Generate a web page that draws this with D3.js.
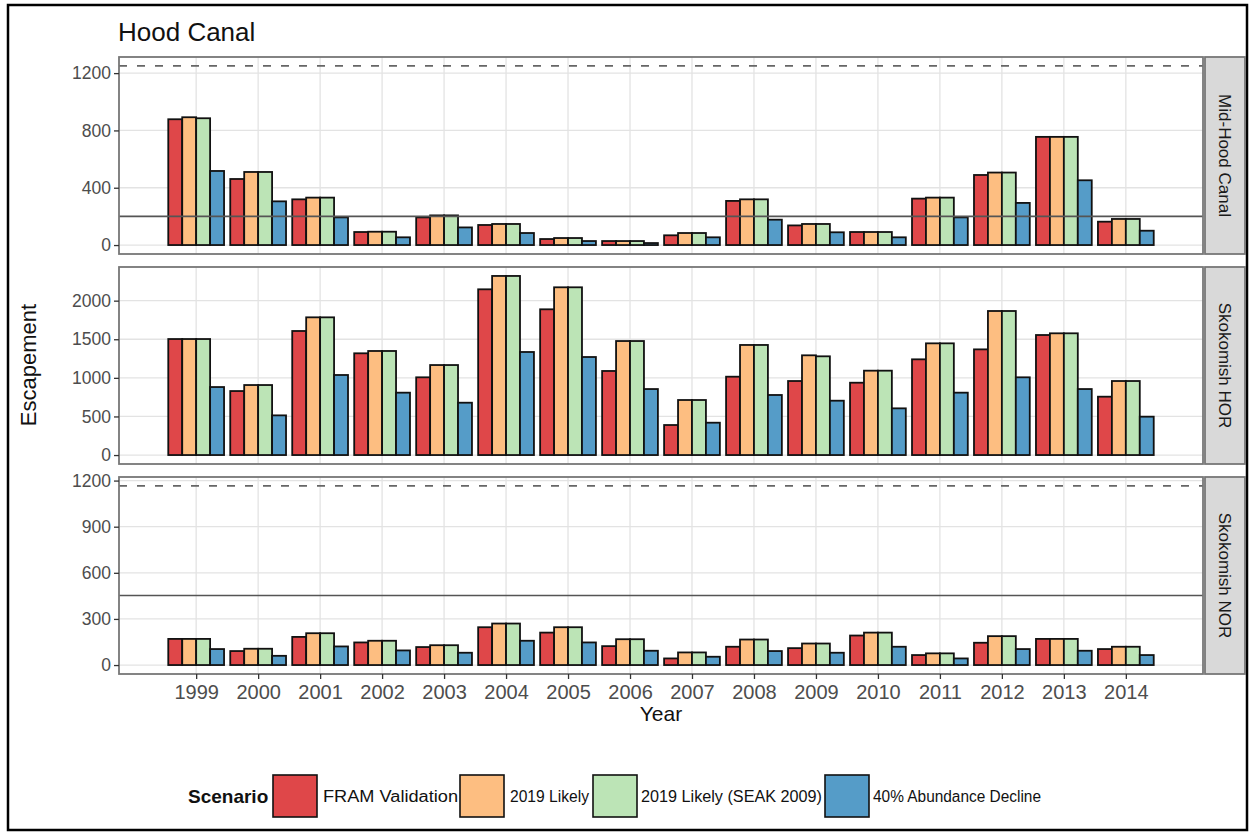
<!DOCTYPE html>
<html><head><meta charset="utf-8">
<script src="https://cdn.jsdelivr.net/npm/d3@7"></script>
<style>body{margin:0;background:#fff} svg{display:block} text{font-family:"Liberation Sans",Arial,sans-serif}</style>
</head><body><svg id="c" width="1254" height="834"></svg>
<script>
const years = [1999,2000,2001,2002,2003,2004,2005,2006,2007,2008,2009,2010,2011,2012,2013,2014];
const scenarios = ["FRAM Validation","2019 Likely","2019 Likely (SEAK 2009)","40% Abundance Decline"];
const scenarioColors = ["#DF4749","#FDBE81","#BCE4B6","#559CC8"];
const panelNames = ["Mid-Hood Canal","Skokomish HOR","Skokomish NOR"];

// Mid-Hood Canal
const midFram   = [878,461,319,91,193,140,42,28,68,308,137,91,324,489,755,163];
const mid2019   = [892,510,331,93,207,147,49,28,84,319,147,91,331,506,755,182];
const midSeak   = [885,510,331,93,207,147,49,28,84,319,147,91,331,506,755,182];
const midDecl   = [517,305,193,54,123,84,28,14,54,177,89,54,193,294,452,100];
// Skokomish HOR
const horFram   = [1503,829,1607,1318,1007,2147,1888,1089,389,1015,959,937,1240,1369,1555,756];
const hor2019   = [1503,907,1784,1348,1166,2320,2173,1477,713,1426,1292,1093,1447,1866,1577,959];
const horSeak   = [1503,907,1784,1348,1166,2320,2173,1477,713,1426,1279,1093,1447,1866,1577,959];
const horDecl   = [881,514,1037,808,678,1335,1270,855,419,778,704,605,808,1007,855,497];
// Skokomish NOR
const norFram   = [170,91,183,147,117,246,211,123,43,119,110,192,65,145,170,104];
const nor2019   = [170,106,207,158,129,270,246,168,82,166,140,211,76,188,170,119];
const norSeak   = [170,106,207,158,129,270,246,168,82,166,140,211,76,188,170,119];
const norDecl   = [104,60,121,95,80,158,147,93,54,91,80,119,43,104,93,65];

const yTicks = [[0,400,800,1200],[0,500,1000,1500,2000],[0,300,600,900,1200]];
const dashedRef = [1250, null, 1165];
const solidRef  = [200, null, 452];

const panelData = [
  [midFram, mid2019, midSeak, midDecl],
  [horFram, hor2019, horSeak, horDecl],
  [norFram, nor2019, norSeak, norDecl]
];

const svg = d3.select("#c");
svg.append("rect").attr("x",8).attr("y",5).attr("width",1239).attr("height",825)
  .attr("fill","#fff").attr("stroke","#000").attr("stroke-width",2.5);

const left = 119, right = 1203;
const panelTops = [57, 267, 477], panelH = 197;
const stripX = 1205, stripW = 40;

const x = d3.scaleLinear().domain([1998.55 - 0.795, 2014.45 + 0.795]).range([left, right]);
const dodge = 0.9, bw = dodge / scenarios.length;

svg.append("text").attr("x",118).attr("y",41).attr("font-size",26).attr("fill","#111").text("Hood Canal");

panelData.forEach((series, p) => {
  const top = panelTops[p];
  let mx = d3.max(series.flat());
  if (dashedRef[p] != null) mx = Math.max(mx, dashedRef[p]);
  const y = d3.scaleLinear().domain([-0.05*mx, 1.05*mx]).range([top+panelH, top]);
  const g = svg.append("g");
  // grid
  g.append("g").selectAll("line").data(yTicks[p]).join("line")
    .attr("x1",left).attr("x2",right).attr("y1",d=>y(d)).attr("y2",d=>y(d))
    .attr("stroke","#e3e3e3").attr("stroke-width",1.3);
  g.append("g").selectAll("line").data(years).join("line")
    .attr("x1",d=>x(d)).attr("x2",d=>x(d)).attr("y1",top).attr("y2",top+panelH)
    .attr("stroke","#e3e3e3").attr("stroke-width",1.3);
  // bars
  series.forEach((vals, s) => {
    g.append("g").selectAll("rect").data(vals).join("rect")
      .attr("x",(d,i)=>x(years[i]-dodge/2+s*bw))
      .attr("width",(d,i)=>x(years[i]-dodge/2+(s+1)*bw)-x(years[i]-dodge/2+s*bw))
      .attr("y",d=>y(d)).attr("height",d=>y(0)-y(d))
      .attr("fill",scenarioColors[s]).attr("stroke","#111").attr("stroke-width",1.8);
  });
  // reference lines
  if (dashedRef[p] != null) {
    g.append("line").attr("x1",left).attr("x2",right).attr("y1",y(dashedRef[p])).attr("y2",y(dashedRef[p]))
      .attr("stroke","#666").attr("stroke-width",1.8).attr("stroke-dasharray","8,10");
  }
  if (solidRef[p] != null) {
    g.append("line").attr("x1",left).attr("x2",right).attr("y1",y(solidRef[p])).attr("y2",y(solidRef[p]))
      .attr("stroke","#555").attr("stroke-width",1.6);
  }
  // border
  g.append("rect").attr("x",left).attr("y",top).attr("width",right-left).attr("height",panelH)
    .attr("fill","none").attr("stroke","#777").attr("stroke-width",1.8);
  // y axis
  const ya = d3.axisLeft(y).tickValues(yTicks[p]).tickFormat(d3.format("d")).tickSize(5).tickPadding(3);
  const ag = svg.append("g").attr("transform",`translate(${left},0)`).call(ya);
  ag.select(".domain").remove();
  ag.selectAll(".tick line").attr("stroke","#333").attr("stroke-width",1.3);
  ag.selectAll(".tick text").attr("font-size",17.5).attr("fill","#4d4d4d")
    .attr("font-family","'Liberation Sans',Arial,sans-serif");
  // strip
  svg.append("rect").attr("x",stripX).attr("y",top).attr("width",stripW).attr("height",panelH)
    .attr("fill","#d9d9d9").attr("stroke","#777").attr("stroke-width",1.8);
  svg.append("text").attr("transform",`translate(${stripX+stripW/2},${top+panelH/2}) rotate(90)`)
    .attr("text-anchor","middle").attr("dy","0.35em").attr("font-size",17).attr("fill","#1a1a1a")
    .text(panelNames[p]);
  // x axis on bottom panel
  if (p === panelData.length-1) {
    const xa = d3.axisBottom(x).tickValues(years).tickFormat(d3.format("d")).tickSize(5).tickPadding(6);
    const xg = svg.append("g").attr("transform",`translate(0,${top+panelH})`).call(xa);
    xg.select(".domain").remove();
    xg.selectAll(".tick line").attr("stroke","#333").attr("stroke-width",1.3);
    xg.selectAll(".tick text").attr("font-size",20).attr("fill","#4d4d4d")
      .attr("font-family","'Liberation Sans',Arial,sans-serif");
  }
});

// axis titles
svg.append("text").attr("x",(left+right)/2).attr("y",721).attr("text-anchor","middle")
  .attr("font-size",21).attr("fill","#111").text("Year");
svg.append("text").attr("transform","translate(36,365) rotate(-90)").attr("text-anchor","middle")
  .attr("font-size",22).attr("fill","#111").text("Escapement");

// legend
const legX = [273, 460, 593, 825];
const legLabelX = [323, 510, 641, 873];
const legLabelW = [135, 79, 181, 168];
const lg = svg.append("g");
lg.append("text").attr("x",188).attr("y",803).attr("font-size",19).attr("font-weight","bold")
  .attr("fill","#111").text("Scenario");
scenarios.forEach((s,i)=>{
  lg.append("rect").attr("x",legX[i]).attr("y",775).attr("width",44).attr("height",42)
    .attr("fill",scenarioColors[i]).attr("stroke","#111").attr("stroke-width",1.6);
  lg.append("text").attr("x",legLabelX[i]).attr("y",802).attr("font-size",16)
    .attr("textLength",legLabelW[i]).attr("lengthAdjust","spacingAndGlyphs")
    .attr("fill","#111").text(s);
});
</script></body></html>
